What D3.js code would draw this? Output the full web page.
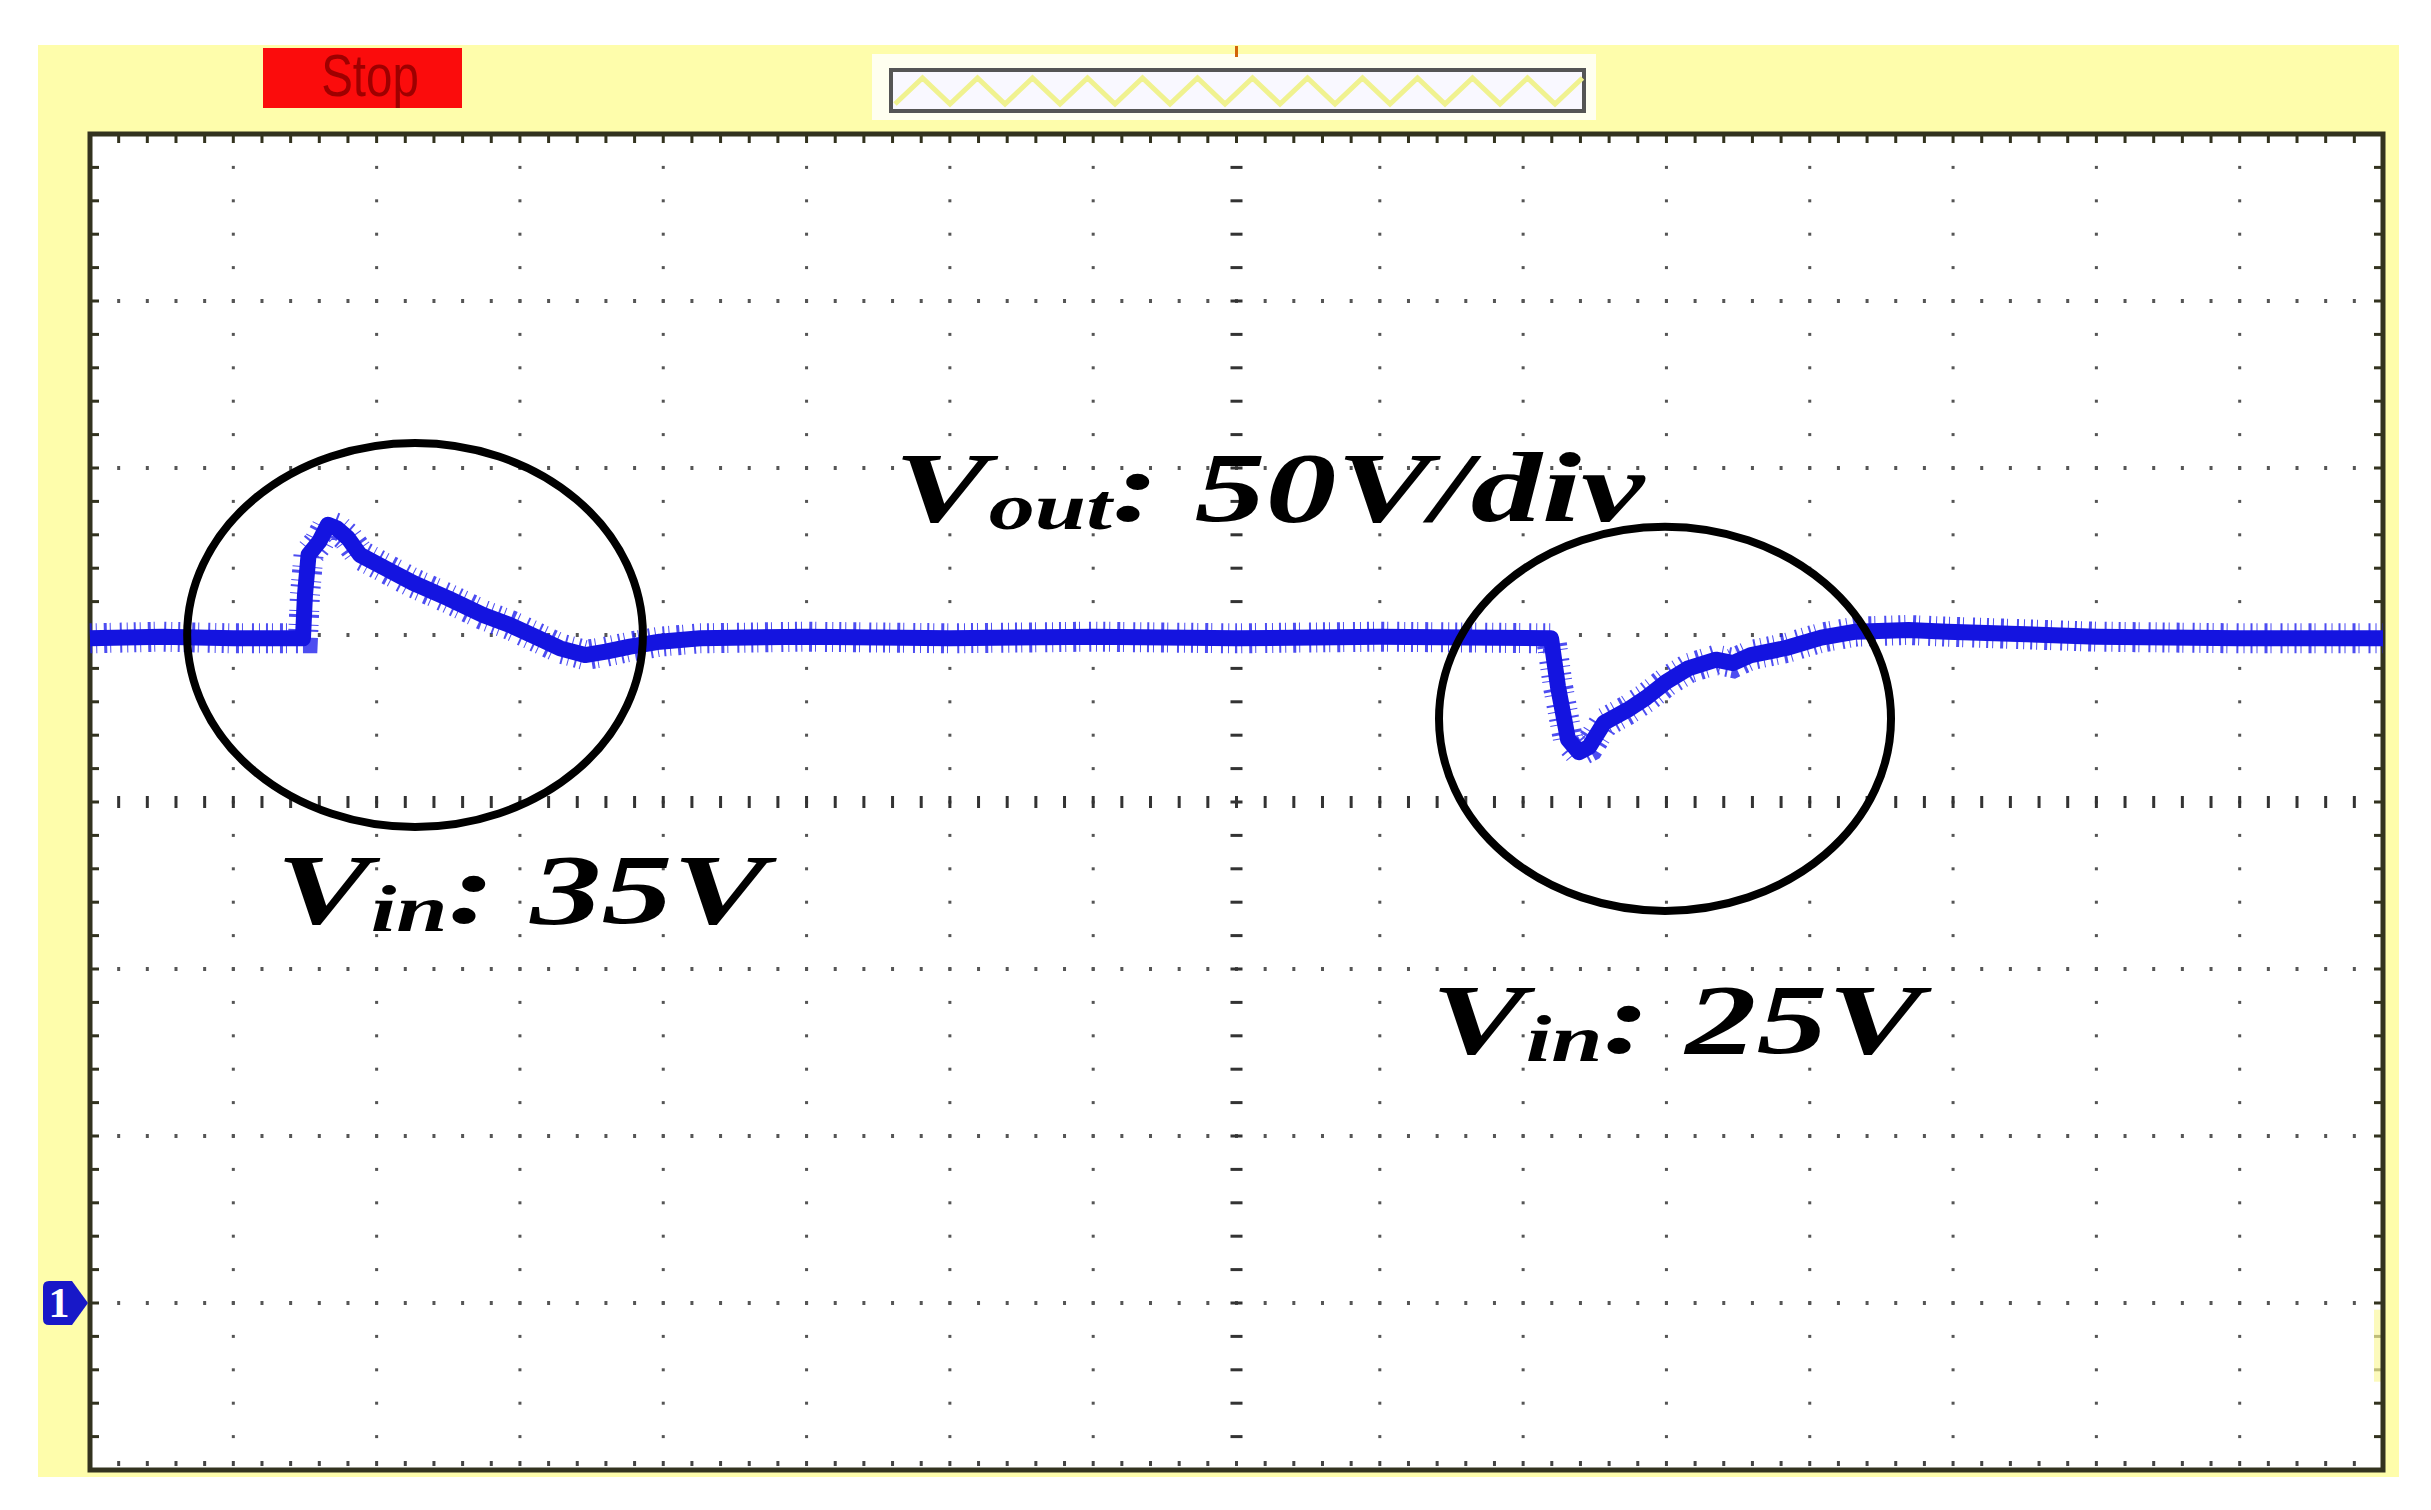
<!DOCTYPE html>
<html>
<head>
<meta charset="utf-8">
<script src="https://cdnjs.cloudflare.com/ajax/libs/d3/7.8.5/d3.min.js"></script>
<style>
  body { margin: 0; background: #fff; }
</style>
</head>
<body>
<script>
// scope trace: time in divisions (16 div), Vout in volts (50 V/div)
var timeDiv = [0, 0.5, 1.0, 1.486, 1.50, 1.525, 1.60, 1.66, 1.72, 1.80, 1.884, 2.06, 2.254, 2.498,
  2.743, 2.93, 3.112, 3.28, 3.454, 3.60, 3.768, 3.977, 4.257, 5, 6, 7, 8, 9, 10.195,
  10.243, 10.313, 10.39, 10.46, 10.565, 10.73, 10.858, 11.0, 11.152, 11.346, 11.466,
  11.59, 11.835, 12.08, 12.32, 12.69, 12.96, 14, 15, 16];
var voutV = [199, 199.5, 199, 199, 212, 224, 228, 233, 232, 229, 224, 220, 215.6, 211,
  206, 203, 199.4, 196, 194, 195, 196.5, 198, 199, 199.5, 199, 199.5, 199, 199.5, 199,
  184.6, 168.8, 164.9, 166.5, 173.7, 177.6, 181.2, 186, 190, 192.6, 191.6,
  194, 196.1, 199.2, 201, 201.5, 201, 199.5, 199, 199];

// annotations
var labelMain = ["V", "V", "V"];
var labelSub = ["out", "in", "in"];
var labelRest = [": 50V/div", ": 35V", ": 25V"];
var labelX = [5.61, 1.298, 9.357];
var labelY = [234.1, 113.8, 74.9];

var ringX = [2.268, 10.99];
var ringY = [200, 174.9];
var ringRx = [1.59, 1.577];
var ringRy = [57.5, 57.5];

var width = 2431, height = 1510;
var svg = d3.select("body").append("svg")
    .attr("width", width)
    .attr("height", height);

var x = d3.scaleLinear().domain([0, 16]).range([90, 2383]);
var y = d3.scaleLinear().domain([-50, 350]).range([1470, 134]);

//yellow scope background
svg.append("rect").attr("x", 38).attr("y", 45).attr("width", 2361).attr("height", 1432)
    .attr("fill", "#fefdab");

//stop badge
svg.append("rect").attr("x", 263).attr("y", 48).attr("width", 199).attr("height", 60)
    .attr("fill", "#fb0c0c");
svg.append("text").attr("transform", "translate(370,96) scale(0.95,1.2)")
    .attr("text-anchor", "middle")
    .style("font-family", "'Liberation Sans', Arial, sans-serif")
    .style("font-size", "50px")
    .attr("fill", "#9e0000")
    .text("Stop");

//memory bar
svg.append("rect").attr("x", 872).attr("y", 54).attr("width", 724).attr("height", 66)
    .attr("fill", "#fffff0");
svg.append("rect").attr("x", 891).attr("y", 70).attr("width", 693).attr("height", 41)
    .attr("fill", "#f9f8ff").attr("stroke", "#555").attr("stroke-width", 4);
var zig = d3.range(0, 26).map(function(k) {
  return [895 + k * 27.5, k % 2 ? 78 : 104];
});
svg.append("path").attr("d", d3.line()(zig))
    .attr("fill", "none").attr("stroke", "#f0f290").attr("stroke-width", 5);

//trigger position mark
svg.append("line").attr("x1", x(8)).attr("x2", x(8)).attr("y1", 46).attr("y2", 57)
    .attr("stroke", "#d2640a").attr("stroke-width", 3);

//plot area
svg.append("rect").attr("x", x(0)).attr("y", y(350))
    .attr("width", x(16) - x(0)).attr("height", y(-50) - y(350))
    .attr("fill", "#fff");

var grid = svg.append("g").attr("fill", "#555");
var minorX = d3.range(1, 80).map(function(k) { return k * 0.2; });
var minorY = d3.range(1, 40).map(function(k) { return -50 + k * 10; });

//dotted division rows
[0, 50, 100, 200, 250, 300].forEach(function(v) {
  grid.selectAll(null).data(minorX).enter().append("rect")
      .attr("x", function(d) { return x(d) - 1.5; })
      .attr("y", y(v) - 2)
      .attr("width", 3).attr("height", 4);
});
//dotted division columns
d3.range(1, 16).filter(function(d) { return d !== 8; }).forEach(function(t) {
  grid.selectAll(null).data(minorY).enter().append("rect")
      .attr("x", x(t) - 1.5)
      .attr("y", function(d) { return y(d) - 1.5; })
      .attr("width", 3).attr("height", 3);
});
//center cross
grid.selectAll(null).data(minorX).enter().append("rect")
    .attr("x", function(d) { return x(d) - 1.5; })
    .attr("y", y(150) - 6)
    .attr("width", 3).attr("height", 12).attr("fill", "#333");
grid.selectAll(null).data(minorY).enter().append("rect")
    .attr("x", x(8) - 6)
    .attr("y", function(d) { return y(d) - 1.5; })
    .attr("width", 12).attr("height", 3).attr("fill", "#333");

//border ticks
var ticks = svg.append("g").attr("fill", "#33331f");
ticks.selectAll(null).data(minorX).enter().append("rect")
    .attr("x", function(d) { return x(d) - 1.5; }).attr("y", y(350))
    .attr("width", 3).attr("height", 9);
ticks.selectAll(null).data(minorX).enter().append("rect")
    .attr("x", function(d) { return x(d) - 1.5; }).attr("y", y(-50) - 9)
    .attr("width", 3).attr("height", 5).attr("fill", "#444");
ticks.selectAll(null).data(minorY).enter().append("rect")
    .attr("x", x(0)).attr("y", function(d) { return y(d) - 1.5; })
    .attr("width", 9).attr("height", 3);
ticks.selectAll(null).data(minorY).enter().append("rect")
    .attr("x", x(16) - 9).attr("y", function(d) { return y(d) - 1.5; })
    .attr("width", 9).attr("height", 3);

//faint yellow artifact on the right edge
svg.append("rect").attr("x", x(16) - 9).attr("y", y(-2)).attr("width", 7).attr("height", 72)
    .attr("fill", "#fbf8a0").attr("opacity", 0.7);

//frame
svg.append("rect").attr("x", x(0)).attr("y", y(350))
    .attr("width", x(16) - x(0)).attr("height", y(-50) - y(350))
    .attr("fill", "none").attr("stroke", "#33331f").attr("stroke-width", 5);

//trace: solid core plus an irregular dashed halo for the sampling noise
var pts = timeDiv.map(function(t, i) { return [t, voutV[i]]; });
var line = d3.line()
    .x(function(d) { return x(d[0]); })
    .y(function(d) { return y(d[1]); });
svg.append("path").attr("d", line(pts))
    .attr("fill", "none").attr("stroke", "#2020ee")
    .attr("stroke-width", 30).attr("stroke-dasharray", "2 4 1 7 3 3 1 9 2 5 1 6")
    .attr("stroke-opacity", 0.8);
svg.append("path").attr("d", line(pts))
    .attr("fill", "none").attr("stroke", "#1414e0")
    .attr("stroke-width", 16).attr("stroke-linejoin", "round");

//channel 1 ground marker
var g0 = y(0);
svg.append("path")
    .attr("d", "M49," + (g0 - 22) + "L72," + (g0 - 22) + "L88," + g0 + "L72," + (g0 + 22) +
      "L49," + (g0 + 22) + "Q43," + (g0 + 22) + " 43," + (g0 + 16) + "L43," + (g0 - 16) +
      "Q43," + (g0 - 22) + " 49," + (g0 - 22) + "Z")
    .attr("fill", "#1818c8");
svg.append("text").attr("x", 59).attr("y", g0 + 14)
    .attr("text-anchor", "middle")
    .style("font-family", "'Liberation Serif', serif")
    .style("font-weight", "bold").style("font-size", "42px")
    .attr("fill", "#fff").text("1");

//rings
svg.selectAll(".ring").data(ringX).enter().append("ellipse")
    .attr("class", "ring")
    .attr("cx", function(d) { return x(d); })
    .attr("cy", function(d, i) { return y(ringY[i]); })
    .attr("rx", function(d, i) { return x(d + ringRx[i]) - x(d); })
    .attr("ry", function(d, i) { return y(ringY[i] - ringRy[i]) - y(ringY[i]); })
    .attr("fill", "none").attr("stroke", "#000").attr("stroke-width", 8);

//labels
labelMain.forEach(function(m, i) {
  var t = svg.append("text")
      .attr("transform", "translate(" + x(labelX[i]) + "," + y(labelY[i]) + ") scale(1.42,1)")
      .style("font-family", "'Liberation Serif', 'Times New Roman', serif")
      .style("font-weight", "bold").style("font-style", "italic")
      .style("font-size", "100px")
      .attr("fill", "#000");
  t.append("tspan").text(m);
  t.append("tspan").attr("dy", 8).style("font-size", "65px").text(labelSub[i]);
  t.append("tspan").attr("dy", -8).text(labelRest[i]);
});
</script>
</body>
</html>
